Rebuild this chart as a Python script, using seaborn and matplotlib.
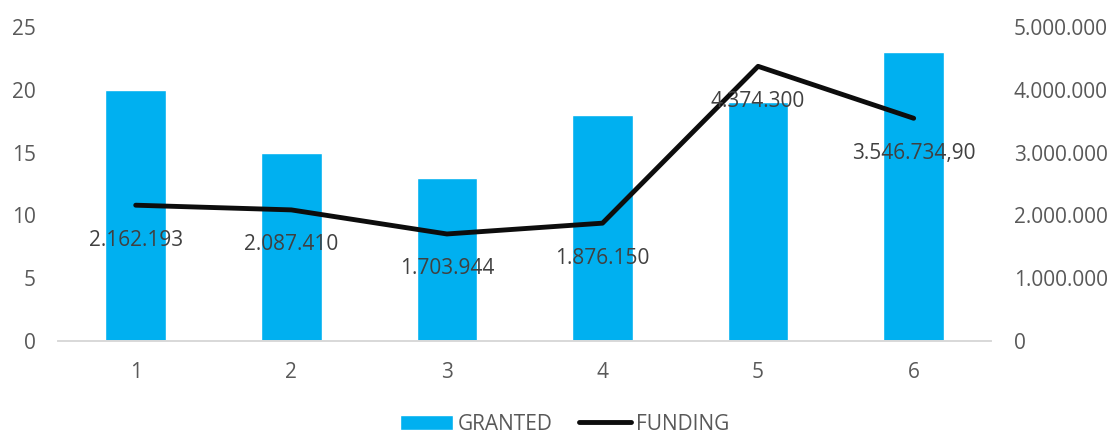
import numpy as np
import matplotlib.pyplot as plt
import seaborn as sns
from matplotlib.ticker import FuncFormatter
from matplotlib.lines import Line2D
from matplotlib.patches import Patch

sns.set_theme(style='white')
plt.rcParams['font.family'] = ['Open Sans', 'DejaVu Sans']

categories = ['1', '2', '3', '4', '5', '6']
granted = [20, 15, 13, 18, 19, 23]
funding = [2162193, 2087410, 1703944, 1876150, 4374300, 3546734.90]
funding_labels = ['2.162.193', '2.087.410', '1.703.944', '1.876.150', '4.374.300', '3.546.734,90']

bar_color = '#00B0F0'
text_color = '#595959'
fs = 15

def dotted(v, pos):
    return f'{int(v):,}'.replace(',', '.')

fig = plt.figure(figsize=(11.14, 4.36), dpi=100)
ax = fig.add_axes([0.052, 0.218, 0.838, 0.72])
sns.barplot(x=categories, y=granted, color=bar_color, width=0.39, saturation=1, ax=ax)
ax.set_ylim(0, 25)
ax.set_yticks(range(0, 26, 5))
ax.set_xlim(-0.5, len(categories) - 0.5)

ax2 = ax.twinx()
xpos = np.arange(len(categories))
sns.lineplot(x=xpos, y=funding, color='#0d0d0d', linewidth=3.5, ax=ax2)
ax2.set_ylim(0, 5000000)
ax2.set_yticks(range(0, 5000001, 1000000))
ax2.yaxis.set_major_formatter(FuncFormatter(dotted))
for x, v, lab in zip(xpos, funding, funding_labels):
    ax2.annotate(lab, (x, v), xytext=(0, -35), textcoords='offset pixels',
                 ha='center', va='center', fontsize=fs, color='#404040')

for a in (ax, ax2):
    for s in ['top', 'left', 'right']:
        a.spines[s].set_visible(False)
    a.spines['bottom'].set_color('#d9d9d9')
    a.tick_params(axis='both', length=0, labelsize=fs, labelcolor=text_color)
    a.set_xlabel('')
    a.set_ylabel('')
    a.grid(False)
ax.tick_params(axis='y', pad=16)
ax.tick_params(axis='x', pad=15)
ax2.tick_params(axis='y', pad=16)

handles = [Patch(facecolor=bar_color, label='GRANTED'),
           Line2D([0], [0], color='#0d0d0d', linewidth=3.5, label='FUNDING')]
fig.legend(handles=handles, loc='center', bbox_to_anchor=(0.507, 0.027), ncol=2, frameon=False,
           fontsize=fs, labelcolor=text_color, handlelength=2.5, handleheight=0.8,
           handletextpad=0.25, columnspacing=1.25)

fig.savefig('out.png', dpi=100)
